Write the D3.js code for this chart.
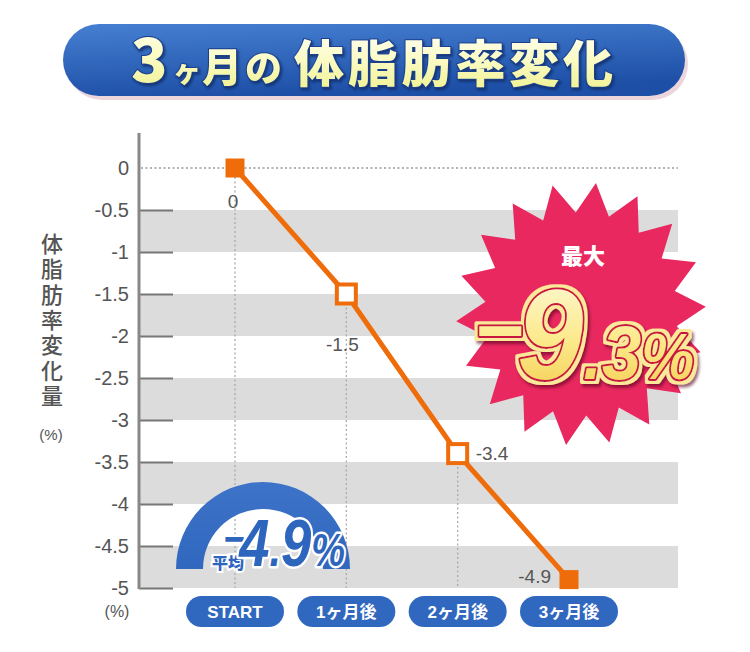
<!DOCTYPE html>
<html><head><meta charset="utf-8">
<script src="https://cdn.jsdelivr.net/npm/d3@7"></script>
<style>html,body{margin:0;padding:0;background:#fff}svg{display:block}</style>
</head><body>
<script>
const categories = ["START", "1ヶ月後", "2ヶ月後", "3ヶ月後"];
const values = [0, -1.5, -3.4, -4.9];
const valueLabels = ["0", "-1.5", "-3.4", "-4.9"];
const yTicks = [0, -0.5, -1, -1.5, -2, -2.5, -3, -3.5, -4, -4.5, -5];
const yTickLabels = ["0", "-0.5", "-1", "-1.5", "-2", "-2.5", "-3", "-3.5", "-4", "-4.5", "-5"];
const titleText = "3ヶ月の体脂肪率変化";
const yAxisTitle = "体脂肪率変化量";
const maxLabel = "最大";
const maxValue = "9.3";
const avgLabel = "平均";
const avgValue = "4.9";

const W = 750, H = 652;
const svg = d3.select("body").append("svg").attr("width", W).attr("height", H);
const defs = svg.append("defs");

const jp = "'Noto Sans CJK JP', 'Noto Sans', sans-serif";
const num = "'Liberation Sans', Arial, sans-serif";
const mixed = "'Liberation Sans', 'Noto Sans CJK JP', sans-serif";

// gradients
const g1 = defs.append("linearGradient").attr("id", "pill").attr("x1", 0).attr("y1", 0).attr("x2", 0.3).attr("y2", 1);
g1.append("stop").attr("offset", 0).attr("stop-color", "#4680d2");
g1.append("stop").attr("offset", 1).attr("stop-color", "#1d4fa6");
const g2 = defs.append("linearGradient").attr("id", "ttxt").attr("x1", 0).attr("y1", 0).attr("x2", 0).attr("y2", 1);
g2.append("stop").attr("offset", 0).attr("stop-color", "#ffffff");
g2.append("stop").attr("offset", 0.5).attr("stop-color", "#fbfbc4");
g2.append("stop").attr("offset", 1).attr("stop-color", "#eef08a");
const g3 = defs.append("linearGradient").attr("id", "gold").attr("x1", 0).attr("y1", 0).attr("x2", 0).attr("y2", 1);
g3.append("stop").attr("offset", 0).attr("stop-color", "#fffbe0");
g3.append("stop").attr("offset", 0.55).attr("stop-color", "#fbe98a");
g3.append("stop").attr("offset", 1).attr("stop-color", "#f3c94a");
const g4 = defs.append("linearGradient").attr("id", "arcg").attr("x1", 0).attr("y1", 0).attr("x2", 0).attr("y2", 1);
g4.append("stop").attr("offset", 0).attr("stop-color", "#3d73c8");
g4.append("stop").attr("offset", 1).attr("stop-color", "#3068bf");

// halo + shadow filter for the big "-9.3%"
const hf = defs.append("filter").attr("id", "halo").attr("x", "-20%").attr("y", "-30%").attr("width", "140%").attr("height", "160%");
hf.append("feMorphology").attr("in", "SourceAlpha").attr("operator", "dilate").attr("radius", 3).attr("result", "dil");
hf.append("feFlood").attr("flood-color", "#fbe89a").attr("result", "cream");
hf.append("feComposite").attr("in", "cream").attr("in2", "dil").attr("operator", "in").attr("result", "halo");
hf.append("feOffset").attr("in", "dil").attr("dx", 2).attr("dy", 3).attr("result", "off");
hf.append("feGaussianBlur").attr("in", "off").attr("stdDeviation", 1.5).attr("result", "blur");
hf.append("feFlood").attr("flood-color", "#5a0a20").attr("flood-opacity", 0.6).attr("result", "sc");
hf.append("feComposite").attr("in", "sc").attr("in2", "blur").attr("operator", "in").attr("result", "shadow");
const hm = hf.append("feMerge");
hm.append("feMergeNode").attr("in", "shadow");
hm.append("feMergeNode").attr("in", "halo");
hm.append("feMergeNode").attr("in", "SourceGraphic");

const sh2 = defs.append("filter").attr("id", "tshadow").attr("x", "-20%").attr("y", "-20%").attr("width", "140%").attr("height", "140%");
sh2.append("feDropShadow").attr("dx", 1.5).attr("dy", 2).attr("stdDeviation", 1).attr("flood-color", "#0c2a66").attr("flood-opacity", 0.8);

// ---- Title pill ----
svg.append("rect").attr("x", 66).attr("y", 28).attr("width", 622).attr("height", 72).attr("rx", 36)
  .attr("fill", "#ecd6dc");
svg.append("rect").attr("x", 63).attr("y", 24).attr("width", 622).attr("height", 72).attr("rx", 36)
  .attr("fill", "url(#pill)");
const chars = Array.from(titleText);
const titleStyle = s => s.attr("font-weight", 900)
  .attr("fill", "url(#ttxt)").attr("stroke", "#1b3f8c").attr("stroke-width", 2).attr("paint-order", "stroke")
  .attr("filter", "url(#tshadow)");
svg.append("text").attr("x", 131).attr("y", 82).attr("font-family", jp)
  .attr("font-size", 60).call(titleStyle).text(chars[0]);
const tt = svg.append("text").attr("x", 173).attr("y", 82).attr("font-family", jp).call(titleStyle);
tt.append("tspan").attr("font-size", 28).text(chars[1]);
tt.append("tspan").attr("font-size", 40).attr("dx", 1).text(chars[2]);
tt.append("tspan").attr("font-size", 37).attr("dx", 3).text(chars[3]);
tt.append("tspan").attr("font-size", 50).attr("dx", 12).attr("letter-spacing", 3.8).text(chars.slice(4).join(""));

// ---- scales ----
const x = d3.scalePoint().domain(categories).range([235, 569]);
const y = d3.scaleLinear().domain([0, -5]).range([168, 588]);
const left = 139, right = 678;

// bands
const bandPairs = d3.range(1, yTicks.length, 2).map(i => [yTicks[i], yTicks[i + 1]]);
svg.append("g").selectAll("rect").data(bandPairs).join("rect")
  .attr("x", left + 1).attr("width", right - left - 1)
  .attr("y", d => y(d[0])).attr("height", d => y(d[1]) - y(d[0]))
  .attr("fill", "#dcdcdc");

// zero dotted line
svg.append("line").attr("x1", left + 2).attr("x2", right).attr("y1", y(0)).attr("y2", y(0))
  .attr("stroke", "#999").attr("stroke-width", 1.5).attr("stroke-dasharray", "2,2.5");

// vertical dotted lines
svg.append("g").selectAll("line").data(categories).join("line")
  .attr("x1", d => x(d)).attr("x2", d => x(d))
  .attr("y1", (d, i) => y(values[i])).attr("y2", y(-5))
  .attr("stroke", "#aaa").attr("stroke-width", 1.3).attr("stroke-dasharray", "2,2.5");

// y axis
const yAxis = d3.axisRight(y).tickValues(yTicks.slice(1)).tickSize(34).tickFormat("");
const ya = svg.append("g").attr("transform", `translate(${left},0)`).call(yAxis);
ya.select(".domain").remove();
ya.selectAll(".tick line").attr("stroke", "#777").attr("stroke-width", 2);
svg.append("line").attr("x1", left).attr("x2", left).attr("y1", 133).attr("y2", 589)
  .attr("stroke", "#888").attr("stroke-width", 3);
svg.append("g").selectAll("text").data(yTicks).join("text")
  .attr("x", 129).attr("y", d => y(d) + 7).attr("text-anchor", "end")
  .attr("font-family", num).attr("font-size", 20).attr("fill", "#555")
  .text((d, i) => yTickLabels[i]);

// y axis title (vertical)
svg.append("g").selectAll("text").data(Array.from(yAxisTitle)).join("text")
  .attr("x", 52).attr("y", (d, i) => 252 + i * 25.3).attr("text-anchor", "middle")
  .attr("font-family", jp).attr("font-weight", 500).attr("font-size", 22).attr("fill", "#555").text(d => d);
svg.append("text").attr("x", 51).attr("y", 440).attr("text-anchor", "middle")
  .attr("font-family", num).attr("font-size", 15).attr("fill", "#555").text("(%)");
svg.append("text").attr("x", 117).attr("y", 617).attr("text-anchor", "middle")
  .attr("font-family", num).attr("font-size", 16).attr("fill", "#555").text("(%)");

// ---- average gauge ----
const cx = 263, cy = 569;
const arc = d3.arc().innerRadius(60).outerRadius(87).startAngle(-Math.PI / 2).endAngle(Math.PI / 2);
svg.append("path").attr("transform", `translate(${cx},${cy})`).attr("d", arc()).attr("fill", "url(#arcg)");
svg.append("text").attr("x", 228).attr("y", 569).attr("text-anchor", "middle")
  .attr("font-family", jp).attr("font-weight", 900).attr("font-size", 16)
  .attr("fill", "#2e66bd").attr("stroke", "#fff").attr("stroke-width", 4).attr("paint-order", "stroke")
  .text(avgLabel);
const at = svg.append("text").attr("x", 223).attr("y", 566)
  .attr("font-family", num).attr("font-weight", 700).attr("font-style", "italic")
  .attr("fill", "#2e66bd").attr("stroke", "#fff").attr("stroke-width", 5).attr("paint-order", "stroke")
  .attr("stroke-linejoin", "round");
at.append("tspan").attr("font-size", 44).attr("dy", -12).text("\u2212");
at.append("tspan").attr("font-size", 66).attr("dy", 12).attr("dx", -6).text(avgValue.charAt(0));
at.append("tspan").attr("font-size", 50).text(".");
at.append("tspan").attr("font-size", 66).text(avgValue.charAt(2));
at.append("tspan").attr("font-size", 46).text("%");
at.attr("textLength", 122).attr("lengthAdjust", "spacingAndGlyphs");

// ---- line + markers ----
const pts = categories.map((c, i) => [x(c), y(values[i])]);
svg.append("path").attr("d", d3.line()(pts)).attr("fill", "none")
  .attr("stroke", "#ef6c0b").attr("stroke-width", 5);
const filled = [true, false, false, true];
svg.append("g").selectAll("rect").data(pts).join("rect")
  .attr("x", d => d[0] - 9.5).attr("y", d => d[1] - 9.5)
  .attr("width", 19).attr("height", 19)
  .attr("fill", (d, i) => filled[i] ? "#ef6c0b" : "#fff")
  .attr("stroke", "#ef6c0b").attr("stroke-width", (d, i) => filled[i] ? 0 : 4);

// value labels
const lblOff = [[-2, 40, "middle"], [-4, 57, "middle"], [18, 6, "start"], [-18, 3, "end"]];
svg.append("g").selectAll("text").data(pts).join("text")
  .attr("x", (d, i) => d[0] + lblOff[i][0]).attr("y", (d, i) => d[1] + lblOff[i][1])
  .attr("text-anchor", (d, i) => lblOff[i][2])
  .attr("font-family", num).attr("font-size", 19).attr("fill", "#555")
  .text((d, i) => valueLabels[i]);

// ---- x category pills ----
const xg = svg.append("g").selectAll("g").data(categories).join("g")
  .attr("transform", d => `translate(${x(d)},612)`);
xg.append("rect").attr("x", -49).attr("y", -16).attr("width", 98).attr("height", 31).attr("rx", 15.5)
  .attr("fill", "#3068bf");
xg.append("text").attr("y", 6).attr("text-anchor", "middle")
  .attr("font-family", mixed).attr("font-weight", 700).attr("font-size", 17).attr("fill", "#fff")
  .text(d => d);

// ---- starburst ----
const sx = 581, sy = 314, nSp = 18;
const starPts = d3.range(nSp * 2).map(i => {
  const a = (i / (nSp * 2)) * Math.PI * 2 - Math.PI / 2 + 0.12;
  const r = i % 2 === 0 ? 1 : 0.77;
  return [sx + Math.cos(a) * 125 * r, sy + Math.sin(a) * 132 * r];
});
svg.append("path").attr("d", "M" + starPts.join("L") + "Z").attr("fill", "#e8285f");
svg.append("text").attr("x", 583).attr("y", 264).attr("text-anchor", "middle")
  .attr("font-family", jp).attr("font-weight", 900).attr("font-size", 22).attr("fill", "#fff")
  .text(maxLabel);
const bt = svg.append("text").attr("x", 474).attr("y", 379)
  .attr("font-family", num).attr("font-weight", 700).attr("font-style", "italic")
  .attr("stroke-linejoin", "round").attr("paint-order", "stroke")
  .attr("fill", "url(#gold)").attr("stroke", "#c8173f").attr("stroke-width", 4)
  .attr("filter", "url(#halo)");
bt.append("tspan").attr("font-size", 90).attr("dy", -18).text("\u2212");
bt.append("tspan").attr("font-size", 128).attr("dy", 18).attr("dx", -6).text(maxValue.charAt(0));
bt.append("tspan").attr("font-size", 72).text(".");
bt.append("tspan").attr("font-size", 76).text(maxValue.charAt(2));
bt.append("tspan").attr("font-size", 64).text("%");
bt.attr("textLength", 220).attr("lengthAdjust", "spacingAndGlyphs");
</script>
</body></html>
